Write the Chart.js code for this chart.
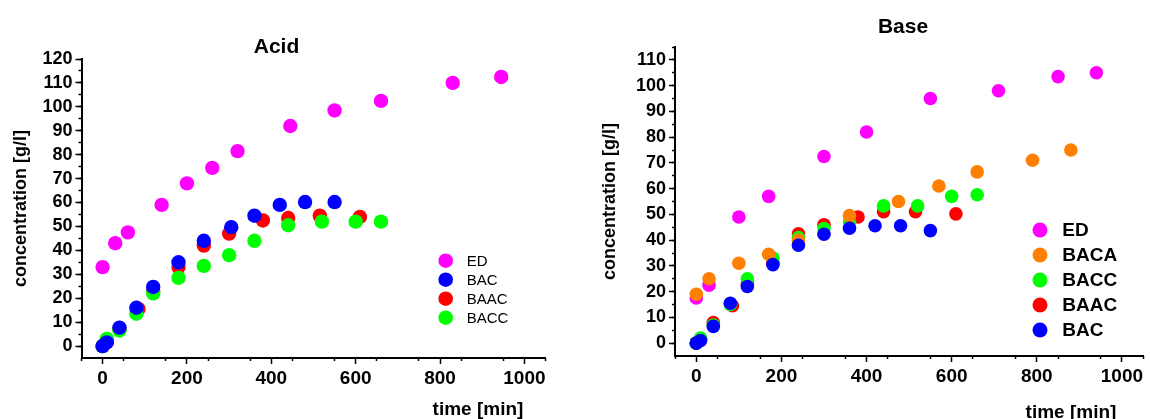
<!DOCTYPE html>
<html>
<head>
<meta charset="utf-8">
<script src="https://cdn.jsdelivr.net/npm/chart.js@4"></script>
<style>
  body { margin: 0; background: #fff; }
  .panel { position: absolute; top: 0; width: 575px; height: 419px; }
</style>
</head>
<body>
<div class="panel" style="left:0"><canvas id="acid" width="575" height="419"></canvas></div>
<div class="panel" style="left:575px"><canvas id="base" width="575" height="419"></canvas></div>
<script>
// Acid
const acidTimeED = [0, 30, 60, 140, 200, 260, 320, 445, 550, 660, 830, 945];
const acidED = [33, 43, 47.5, 59, 68, 74.5, 81.5, 92, 98.5, 102.5, 110, 112.5];
const acidTimeBAC = [0, 10, 40, 80, 120, 180, 240, 305, 360, 420, 480, 550];
const acidBAC = [0, 1.5, 7.7, 16, 24.7, 35, 44, 49.7, 54.5, 59, 60.2, 60.2];
const acidTimeBAAC = [0, 10, 40, 85, 120, 180, 240, 300, 380, 440, 515, 610];
const acidBAAC = [0, 2, 7, 15.5, 23, 33, 42, 47, 52.5, 53.5, 54.5, 54];
const acidTimeBACC = [0, 10, 40, 80, 120, 180, 240, 300, 360, 440, 520, 600, 660];
const acidBACC = [0, 3, 6.5, 13.5, 22, 28.5, 33.5, 38, 44, 50.5, 52, 52, 52];

// Base
const baseTimeED = [0, 30, 100, 170, 300, 400, 550, 710, 850, 940];
const baseED = [17.5, 22.5, 49, 57, 72.5, 82, 95, 98, 103.5, 105];
const baseTimeBACA = [0, 30, 100, 170, 240, 360, 475, 570, 660, 790, 880];
const baseBACA = [19, 25, 31, 34.5, 40, 49.5, 55, 61, 66.5, 71, 75];
const baseTimeBACC = [0, 10, 40, 80, 120, 180, 240, 300, 360, 440, 520, 600, 660];
const baseBACC = [0, 2, 7, 15, 25, 33, 41, 44.5, 47, 53.3, 53.3, 57, 57.6];
const baseTimeBAAC = [0, 10, 40, 85, 120, 180, 240, 300, 380, 440, 515, 610];
const baseBAAC = [0, 1.5, 8, 14.5, 23, 31, 42.5, 46, 49, 51, 51, 50.2];
const baseTimeBAC = [0, 10, 40, 80, 120, 180, 240, 300, 360, 420, 480, 550];
const baseBAC = [0, 1, 6.5, 15.5, 22, 30.5, 38, 42.3, 44.6, 45.6, 45.6, 43.7];

// tick labels
const xTicks = [0, 200, 400, 600, 800, 1000];
const acidYTicks = [0, 10, 20, 30, 40, 50, 60, 70, 80, 90, 100, 110, 120];
const baseYTicks = [0, 10, 20, 30, 40, 50, 60, 70, 80, 90, 100, 110];

const acidLegend = ["ED", "BAC", "BAAC", "BACC"];
const baseLegend = ["ED", "BACA", "BACC", "BAAC", "BAC"];

const colors = { ED: "#ff00ff", BAC: "#0000ff", BAAC: "#ff0000", BACC: "#00ff00", BACA: "#ff8000" };
const FONT = "'Liberation Sans', Arial, sans-serif";

Chart.defaults.color = "#000";
Chart.defaults.font.family = FONT;

const pts = (xs, ys) => xs.map((x, i) => ({ x: x, y: ys[i] }));

const ds = (label, xs, ys, order, r) => ({
	label: label,
	data: pts(xs, ys),
	backgroundColor: colors[label],
	borderColor: colors[label],
	pointRadius: r,
	pointBorderWidth: 0,
	order: order,
});

// titles, x title and legend drawn in the plot
const makePanel = (cfg) => ({
	id: "panel",
	afterDraw(chart) {
		const ctx = chart.ctx;
		ctx.save();
		ctx.fillStyle = "#000";
		ctx.textAlign = "center";
		ctx.textBaseline = "alphabetic";
		ctx.font = "bold 21px " + FONT;
		ctx.fillText(cfg.title, cfg.titleX, cfg.titleY);
		ctx.font = "bold 19px " + FONT;
		ctx.fillText("time [min]", cfg.xTitleX, cfg.xTitleY);

		ctx.textAlign = "left";
		ctx.textBaseline = "middle";
		ctx.font = cfg.legendFont;
		cfg.legend.forEach((name, i) => {
			const y = cfg.legendY + i * cfg.legendGap;
			ctx.fillStyle = colors[name];
			ctx.beginPath();
			ctx.arc(cfg.legendX, y, cfg.legendR, 0, Math.PI * 2);
			ctx.fill();
			ctx.fillStyle = "#000";
			ctx.fillText(name, cfg.legendTextX, y + 1);
		});
		ctx.restore();
	},
});

const makeScales = (yMax, yTicks, yWidth, xHeight, titlePad) => ({
	x: {
		type: "linear", position: "bottom", min: -50, max: 1050, weight: 1,
		afterBuildTicks: (s) => { s.ticks = xTicks.map((v) => ({ value: v })); },
		afterFit: (s) => { s.height = xHeight; },
		border: { display: true, color: "#000", width: 2 },
		grid: { drawOnChartArea: false, tickLength: 6, tickColor: "#000", tickWidth: 1.5 },
		ticks: { autoSkip: false, maxRotation: 0, padding: 3, callback: (v) => String(v),
			color: "#000", font: { size: 19, weight: "bold" } },
	},
	x2: {
		type: "linear", position: "bottom", min: -50, max: 1050, weight: 0,
		afterFit: (s) => { s.height = 0; },
		border: { display: false },
		grid: { drawOnChartArea: false, tickLength: 3, tickColor: "#000", tickWidth: 1.5 },
		ticks: { stepSize: 100, includeBounds: false, display: false },
	},
	y: {
		type: "linear", position: "left", min: -5, max: yMax, weight: 1,
		afterBuildTicks: (s) => { s.ticks = yTicks.map((v) => ({ value: v })); },
		afterFit: (s) => { s.width = yWidth; },
		border: { display: true, color: "#000", width: 2 },
		grid: { drawOnChartArea: false, tickLength: 6, tickColor: "#000", tickWidth: 1.5 },
		ticks: { autoSkip: false, padding: 3, callback: (v) => String(v),
			color: "#000", font: { size: 18, weight: "bold" } },
		title: { display: true, text: "concentration [g/l]", color: "#000",
			font: { size: 18, weight: "bold" }, padding: { top: titlePad, bottom: 0 } },
	},
	y2: {
		type: "linear", position: "left", min: -5, max: yMax, weight: 0,
		afterFit: (s) => { s.width = 0; },
		border: { display: false },
		grid: { drawOnChartArea: false, tickLength: 3, tickWidth: 1.5,
			tickColor: (c) => (c.tick && c.tick.value < 0 ? "rgba(0,0,0,0)" : "#000") },
		ticks: { stepSize: 5, includeBounds: false, display: false },
	},
});

new Chart(document.getElementById("acid"), {
	type: "scatter",
	data: {
		datasets: [
			ds("ED", acidTimeED, acidED, 0, 7.2),
			ds("BAC", acidTimeBAC, acidBAC, 1, 7.2),
			ds("BAAC", acidTimeBAAC, acidBAAC, 3, 7.2),
			ds("BACC", acidTimeBACC, acidBACC, 2, 7.2),
		],
	},
	options: {
		responsive: false,
		animation: false,
		events: [],
		layout: { padding: { left: 0, top: 59, right: 29.5, bottom: 0 } },
		plugins: { legend: { display: false }, tooltip: { enabled: false } },
		scales: makeScales(120, acidYTicks, 81.5, 61, 10),
	},
	plugins: [makePanel({
		title: "Acid", titleX: 276.5, titleY: 53,
		xTitleX: 478, xTitleY: 415,
		legend: acidLegend, legendX: 445.7, legendTextX: 466.7, legendY: 260.7, legendGap: 19,
		legendR: 7.3, legendFont: "15px " + FONT,
	})],
});

new Chart(document.getElementById("base"), {
	type: "scatter",
	data: {
		datasets: [
			ds("ED", baseTimeED, baseED, 5, 6.8),
			ds("BACA", baseTimeBACA, baseBACA, 2, 6.8),
			ds("BACC", baseTimeBACC, baseBACC, 3, 6.8),
			ds("BAAC", baseTimeBAAC, baseBAAC, 4, 6.8),
			ds("BAC", baseTimeBAC, baseBAC, 1, 6.8),
		],
	},
	options: {
		responsive: false,
		animation: false,
		events: [],
		layout: { padding: { left: 0, top: 47, right: 3, bottom: 0 } },
		plugins: { legend: { display: false }, tooltip: { enabled: false } },
		scales: makeScales(115, baseYTicks, 100, 63, 24),
	},
	plugins: [makePanel({
		title: "Base", titleX: 328, titleY: 33,
		xTitleX: 496, xTitleY: 418,
		legend: baseLegend, legendX: 465, legendTextX: 487.3, legendY: 230, legendGap: 25,
		legendR: 7.5, legendFont: "bold 19px " + FONT,
	})],
});
</script>
</body>
</html>
